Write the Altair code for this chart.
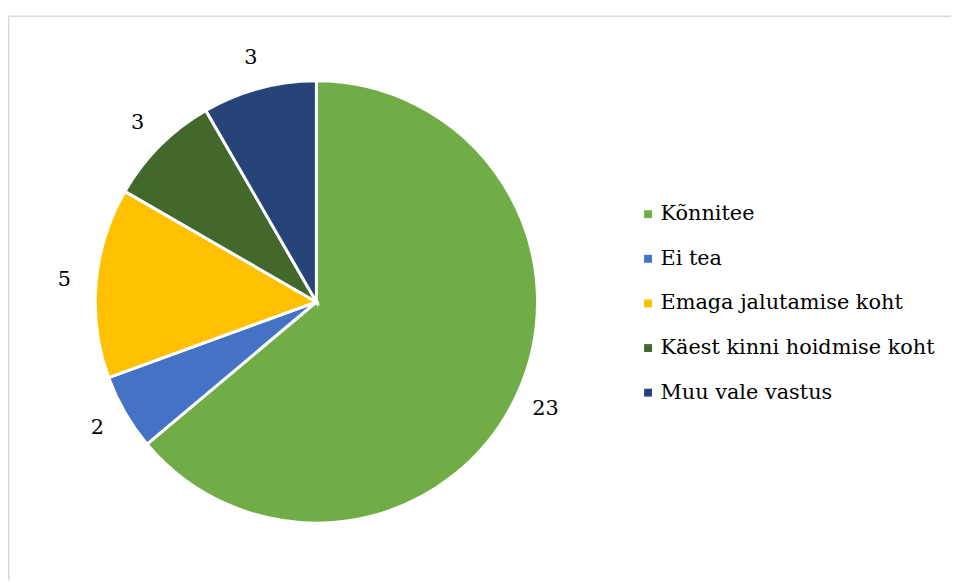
import altair as alt
import pandas as pd

categories = ["Kõnnitee", "Ei tea", "Emaga jalutamise koht",
              "Käest kinni hoidmise koht", "Muu vale vastus"]
values = [23, 2, 5, 3, 3]
colors = ["#70AD47", "#4472C4", "#FFC000", "#43682B", "#264478"]

df = pd.DataFrame({"cat": categories, "val": values, "ord": list(range(len(values)))})

CX, CY, R = 311, 294, 223
FONT = "DejaVu Serif"
FS = 21

base = alt.Chart(df).encode(
    theta=alt.Theta("val:Q", stack=True),
    order=alt.Order("ord:Q"),
)

arcs = base.mark_arc(radius=R, stroke="white", strokeWidth=3, x=CX, y=CY).encode(
    color=alt.Color(
        "cat:N",
        scale=alt.Scale(domain=categories, range=colors),
        legend=alt.Legend(
            orient="none", legendX=635, legendY=195, title=None,
            labelFont=FONT, labelFontSize=FS, labelColor="black",
            symbolType="square", symbolSize=64, symbolStrokeWidth=0,
            rowPadding=23, labelOffset=2, labelLimit=400,
        ),
    )
)

labels = base.mark_text(radius=255, fontSize=FS, font=FONT, color="black",
                        x=CX, y=CY).encode(text="val:Q")

one = pd.DataFrame({"a": [0]})
top_border = alt.Chart(one).mark_rule(color="#d9d9d9", strokeWidth=1.5).encode(
    x=alt.value(0), x2=alt.value(951), y=alt.value(6))
left_border = alt.Chart(one).mark_rule(color="#d9d9d9", strokeWidth=1.5).encode(
    x=alt.value(0.75), y=alt.value(6), y2=alt.value(575))

chart = alt.layer(top_border, left_border, arcs, labels).properties(
    width=951, height=575, autosize="none", padding=0
).configure_view(stroke=None)

chart.save("out.html", embed_options={"renderer": "svg", "actions": False})
